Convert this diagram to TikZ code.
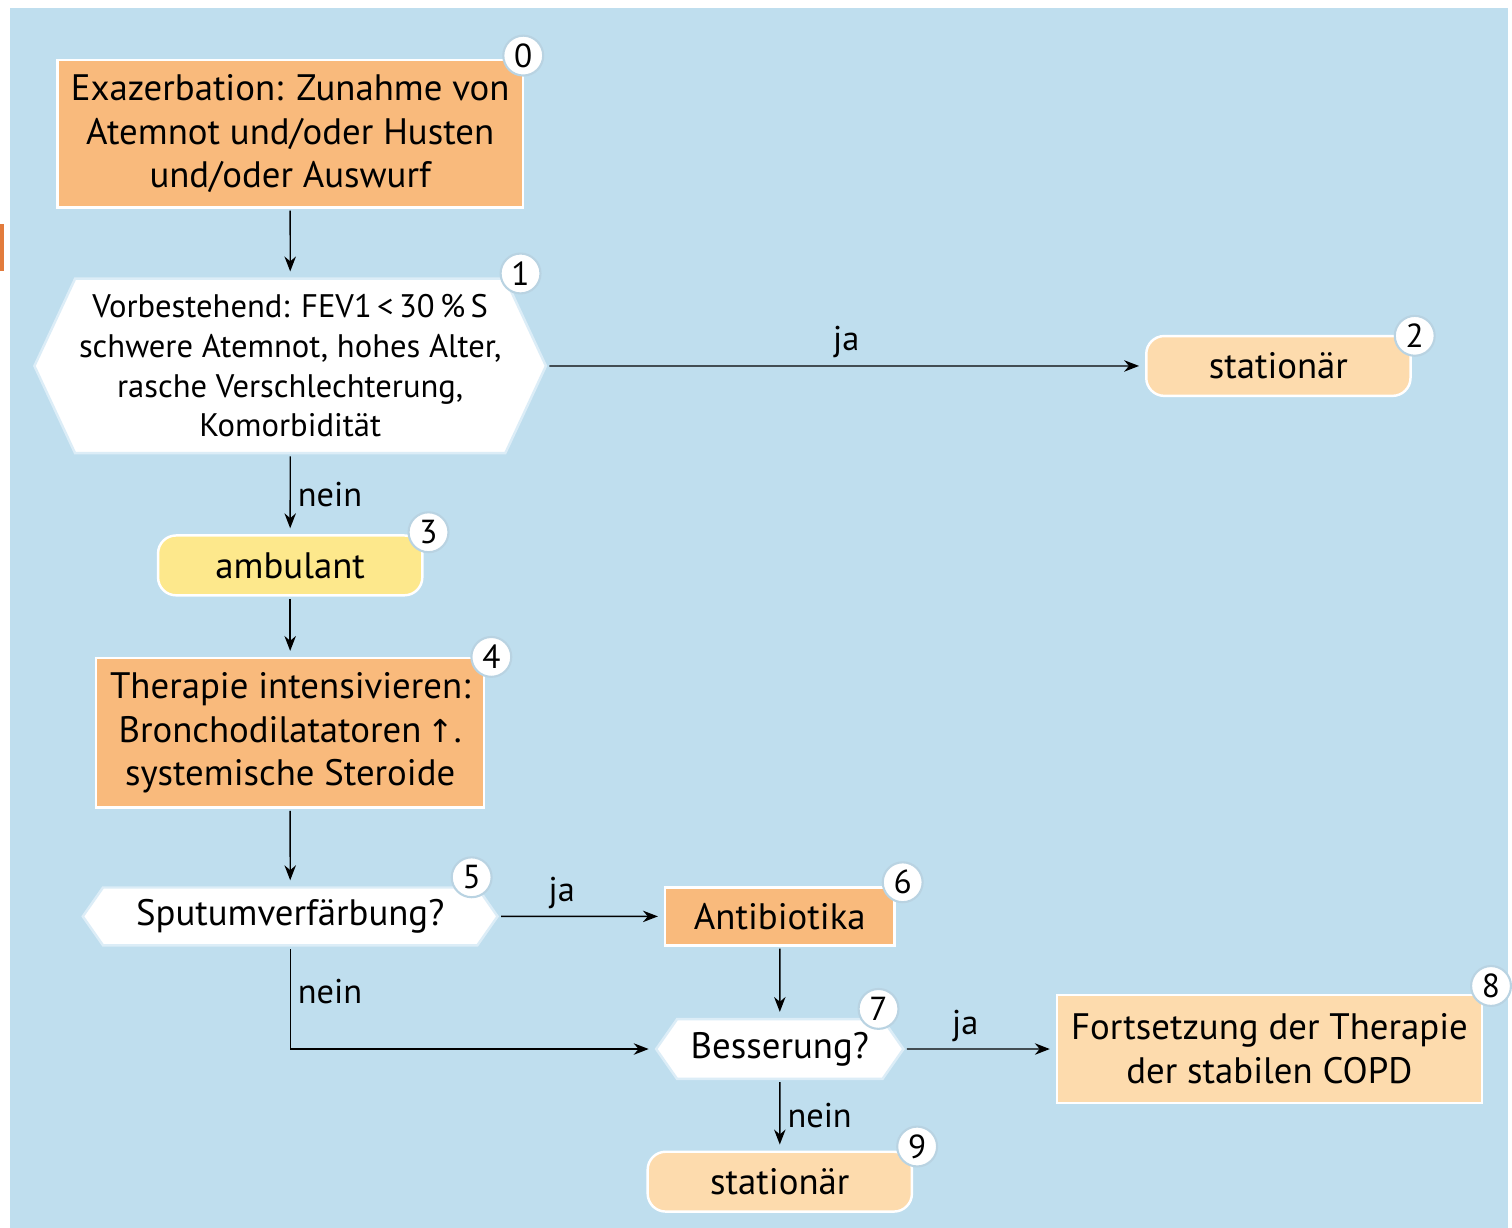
\documentclass[tikz,border=0pt]{standalone}
\usepackage{fontspec}
\setmainfont{PT Sans}
\newfontfamily\pfeilfont{DejaVu Sans}
\usetikzlibrary{arrows.meta,positioning,shapes.symbols,backgrounds}

\definecolor{hgblau}{HTML}{BFDEEE}
\definecolor{kastenorange}{HTML}{F9BA7C}
\definecolor{hellorange}{HTML}{FDDBAD}
\definecolor{kastengelb}{HTML}{FDE88C}
\definecolor{randblau}{HTML}{DCEDF7}
\definecolor{ringblau}{HTML}{B9D3E2}
\definecolor{markeorange}{HTML}{E27B3C}

\begin{document}
\begin{tikzpicture}
  [node distance=2cm,>={Stealth[length=1.5mm,width=1.15mm]},on grid,%全局:节点距离、箭头样式、网格对齐
   font=\fontsize{10.5}{12.5}\selectfont,%正文字号
   box/.style={rectangle,draw=white,line width=0.7pt,fill=kastenorange,align=center,inner sep=0pt},%橙色矩形框
   end box/.style={box,fill=hellorange,rounded corners=0.18cm},%浅橙色圆角框
   ask/.style={signal,signal to=east and west,signal pointer angle=110,draw=randblau,line width=0.7pt,fill=white,align=center,inner sep=0pt},%白色六边形判断框
   num/.style={circle,draw=ringblau,line width=0.6pt,fill=white,inner sep=0pt,minimum size=0.4cm,font=\fontsize{9.5}{10}\selectfont},%编号小圆
   lab/.style={font=\fontsize{9.8}{11}\selectfont,inner sep=2pt},%ja/nein 标签
   pre/.style={<-,thin,shorten <=0.06cm,shorten >=0.02cm}]%指向当前节点的箭头

  % 第一列
  \node [box,minimum width=4.67cm,minimum height=1.48cm] (s0) at (2.91,-1.34)
    {Exazerbation: Zunahme von\\Atemnot und/oder Husten\\und/oder Auswurf};
  \node [ask,signal pointer angle=130,minimum width=5.13cm,minimum height=1.75cm,
         font=\fontsize{9.3}{11.3}\selectfont] (s1) [below=2.33cm of s0]
    {Vorbestehend: FEV1\,<\,30\,\%\,S\\schwere Atemnot, hohes Alter,\\rasche Verschlechterung,\\Komorbidität}
    edge [pre]                          (s0);
  \node [end box,minimum width=2.65cm,minimum height=0.6cm] (s2) [right=9.91cm of s1] {stationär}
    edge [pre] node [lab,above] {ja}    (s1);
  \node [end box,fill=kastengelb,minimum width=2.65cm,minimum height=0.6cm] (s3) [below=2cm of s1] {ambulant}
    edge [pre] node [lab,right] {nein}  (s1);
  \node [box,minimum width=3.89cm,minimum height=1.5cm] (s4) [below=1.68cm of s3]
    {Therapie intensivieren:\\Bronchodilatatoren\,{\pfeilfont\fontsize{9}{10}\selectfont ↑}.\\systemische Steroide}
    edge [pre]                          (s3);
  \node [ask,minimum width=4.16cm,minimum height=0.58cm] (s5) [below=1.84cm of s4] {Sputumverfärbung?}
    edge [pre]                          (s4);

  % 第二列
  \node [box,minimum width=2.3cm,minimum height=0.58cm] (s6) [right=4.91cm of s5] {Antibiotika}
    edge [pre] node [lab,above,pos=0.62] {ja} (s5);
  \node [ask,minimum width=2.48cm,minimum height=0.6cm] (s7) [below=1.33cm of s6] {Besserung?}
    edge [pre]                          (s6)
    edge [pre,to path={-| (\tikztotarget) \tikztonodes}] node [lab,right,pos=0.78] {nein} (s5);
  \node [box,fill=hellorange,minimum width=4.26cm,minimum height=1.08cm] (s8) [right=4.91cm of s7]
    {Fortsetzung der Therapie\\der stabilen COPD}
    edge [pre] node [lab,above,pos=0.6] {ja} (s7);
  \node [end box,minimum width=2.65cm,minimum height=0.6cm] (s9) [below=1.33cm of s7] {stationär}
    edge [pre] node [lab,right] {nein}  (s7);

  % 编号
  \node [num] (k0) at ([xshift=-0.01cm,yshift=0.03cm]s0.north east) {0};
  \node [num] (k1) at ([xshift=2.31cm,yshift=0.04cm]s1.north)      {1};
  \node [num] (k2) at ([xshift=0.03cm,yshift=-0.01cm]s2.north east) {2};
  \node [num] (k3) at ([xshift=0.05cm,yshift=0.02cm]s3.north east) {3};
  \node [num] (k4) at ([xshift=0.06cm]s4.north east)               {4};
  \node [num] (k5) at ([xshift=1.82cm,yshift=0.09cm]s5.north)      {5};
  \node [num] (k6) at ([xshift=0.07cm,yshift=0.04cm]s6.north east) {6};
  \node [num] (k7) at ([xshift=0.99cm,yshift=0.09cm]s7.north)      {7};
  \node [num] (k8) at ([xshift=0.08cm,yshift=0.08cm]s8.north east) {8};
  \node [num] (k9) at ([xshift=0.04cm,yshift=0.04cm]s9.north east) {9};

  \begin{scope}[on background layer]%背景
    \useasboundingbox (0,0) rectangle (15.12,-12.31);
    \fill [white] (0,0) rectangle (15.12,-12.31);
    \fill [hgblau] (0.10,-0.08) rectangle (15.12,-12.31);
    \fill [markeorange] (0,-2.25) rectangle (0.04,-2.72);
  \end{scope}
\end{tikzpicture}
\end{document}
